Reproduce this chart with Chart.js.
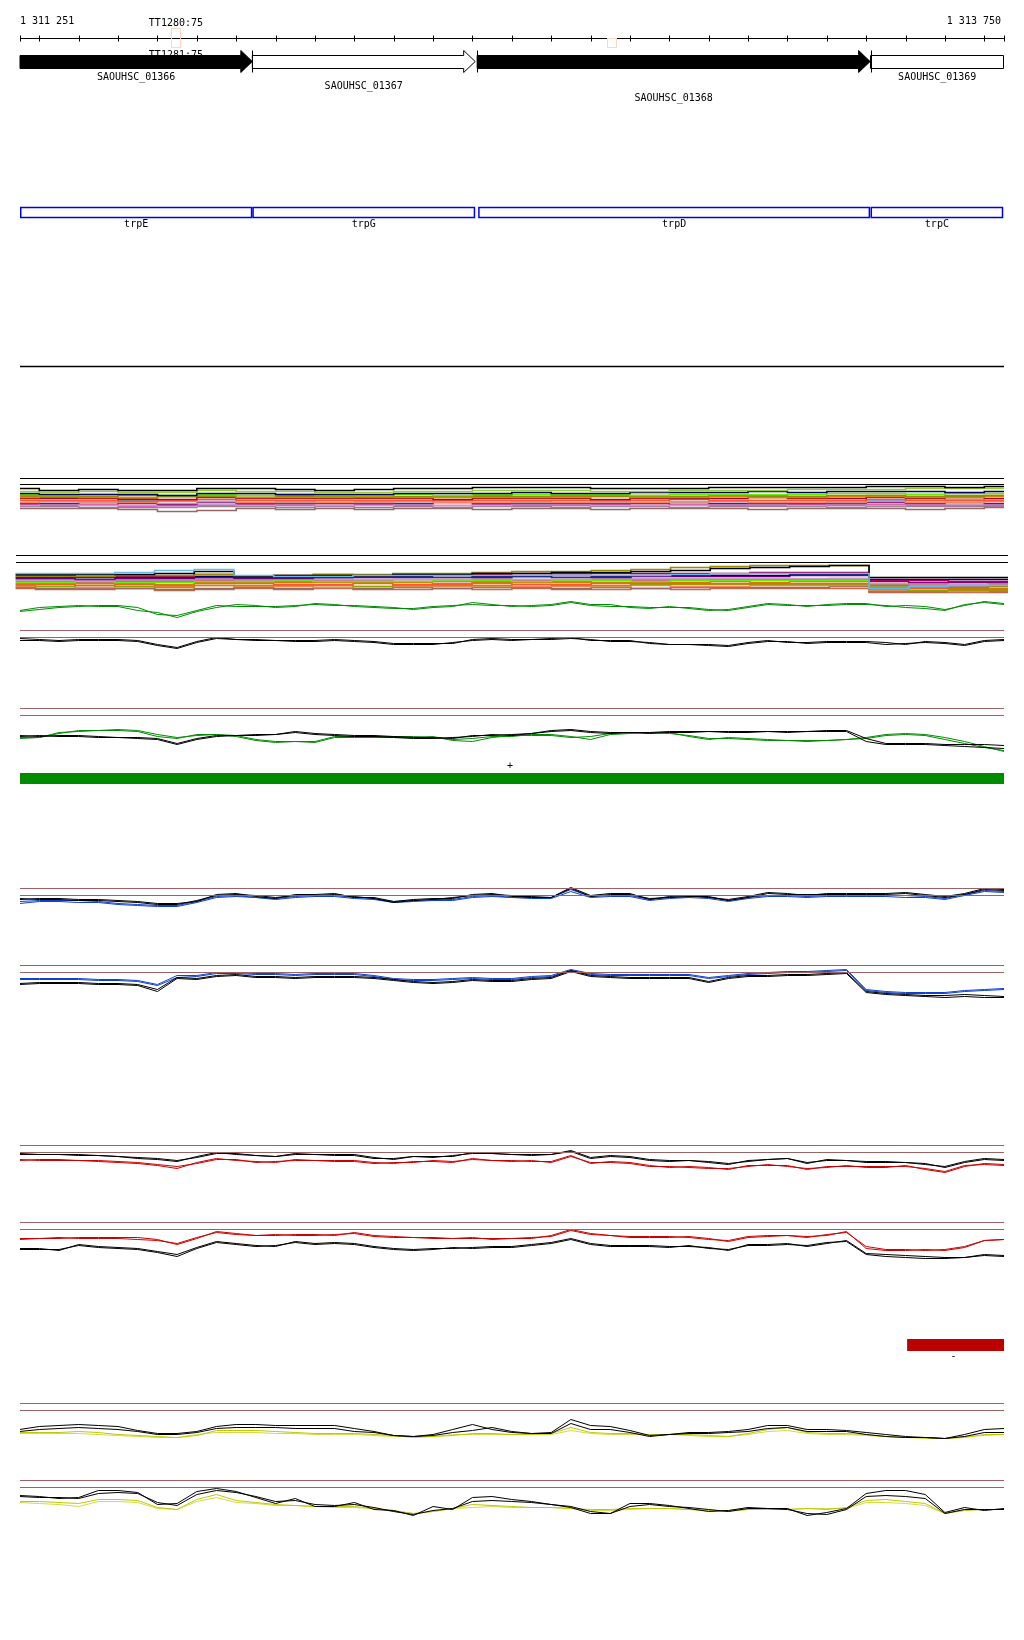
<!DOCTYPE html>
<html>
<head>
<meta charset="utf-8">
<script src="https://cdn.jsdelivr.net/npm/chart.js@4.4.1/dist/chart.umd.min.js"></script>
<style>
  html, body { margin: 0; padding: 0; background: #fff; }
  canvas { display: block; }
</style>
</head>
<body>
<canvas id="genomeChart" width="1024" height="1640"></canvas>
<script>
// view window (bp)
const viewStart = 1311251;
const viewEnd = 1313750;
const rulerLabels = ['1 311 251', '1 313 750'];
const rulerTicks = [1311251, 1311300, 1311400, 1311500, 1311600, 1311700, 1311800, 1311900,
  1312000, 1312100, 1312200, 1312300, 1312400, 1312500, 1312600, 1312700, 1312800, 1312900,
  1313000, 1313100, 1313200, 1313300, 1313400, 1313500, 1313600, 1313700, 1313750];

// genes
const geneNames = ['SAOUHSC_01366', 'SAOUHSC_01367', 'SAOUHSC_01368', 'SAOUHSC_01369'];
const geneStarts = [1311180, 1311841, 1312412, 1313411];
const geneEnds = [1311841, 1312407, 1313410, 1313900];
const geneFilled = [true, false, true, false];
const geneSymbols = ['trpE', 'trpG', 'trpD', 'trpC'];

// probes
const probeNames = ['TT1280:75', 'TT1281:75', ''];
const probePos = [1311647, 1311647, 1312754];

// transcribed segments
const segStrands = ['+', '-'];
const segStarts = [1311251, 1313504];
const segEnds = [1313750, 1313750];

// sample positions
const pos50 = [1311250, 1311300, 1311350, 1311400, 1311450, 1311500, 1311550, 1311600, 1311650, 1311700,
  1311750, 1311800, 1311850, 1311900, 1311950, 1312000, 1312050, 1312100, 1312150, 1312200,
  1312250, 1312300, 1312350, 1312400, 1312450, 1312500, 1312550, 1312600, 1312650, 1312700,
  1312750, 1312800, 1312850, 1312900, 1312950, 1313000, 1313050, 1313100, 1313150, 1313200,
  1313250, 1313300, 1313350, 1313400, 1313450, 1313500, 1313550, 1313600, 1313650, 1313700, 1313750];
const pos100 = [1311250, 1311350, 1311450, 1311550, 1311650, 1311750, 1311850, 1311950, 1312050, 1312150,
  1312250, 1312350, 1312450, 1312550, 1312650, 1312750, 1312850, 1312950, 1313050, 1313150,
  1313250, 1313350, 1313450, 1313550, 1313650, 1313750];

const refLevels = [0, -7];
const refLevelsA = [0, -6];

// track A: many conditions
const colorsA = ['#000000', '#99CC33', '#000066', '#66EE00', '#998800', '#DD8800', '#AA0033', '#FF5533',
  '#66BBEE', '#EE8866', '#880088', '#CC99CC', '#DD55AA', '#888888', '#996666', '#BB7711'];
const valuesA = [
  [-10,-12,-11,-12,-12,-10,-10,-11,-12,-11,-10,-10,-9,-9,-9,-10,-10,-10,-9,-9,-9,-9,-8,-8,-9,-8],
  [-13,-14,-13,-14,-14,-12,-13,-13,-14,-14,-13,-13,-12,-12,-12,-13,-13,-12,-12,-12,-11,-11,-11,-10,-10,-10],
  [-15,-16,-16,-16,-17,-15,-15,-16,-16,-16,-15,-15,-15,-14,-15,-15,-14,-14,-14,-13,-14,-13,-13,-13,-14,-13],
  [-16,-17,-16,-16,-17,-16,-17,-16,-17,-17,-16,-17,-16,-16,-16,-16,-17,-16,-16,-16,-16,-15,-15,-16,-15,-15],
  [-17,-18,-18,-17,-18,-18,-17,-18,-18,-19,-18,-18,-18,-18,-17,-18,-18,-18,-17,-18,-18,-17,-17,-18,-18,-17],
  [-19,-18,-19,-19,-18,-17,-19,-19,-19,-18,-19,-19,-19,-19,-19,-18,-19,-19,-18,-19,-19,-18,-18,-19,-19,-18],
  [-20,-20,-20,-21,-21,-19,-20,-20,-20,-20,-20,-21,-20,-20,-20,-21,-20,-20,-20,-19,-20,-20,-19,-20,-19,-20],
  [-22,-22,-22,-23,-22,-21,-22,-22,-22,-22,-22,-22,-22,-22,-22,-22,-22,-21,-22,-22,-22,-22,-21,-22,-22,-22],
  [-22,-23,-23,-22,-23,-23,-22,-23,-22,-23,-23,-22,-22,-23,-22,-23,-22,-23,-23,-22,-22,-23,-22,-22,-21,-22],
  [-24,-23,-24,-24,-25,-23,-24,-24,-24,-24,-23,-24,-24,-24,-24,-24,-24,-24,-23,-24,-24,-24,-23,-24,-24,-23],
  [-25,-25,-24,-25,-26,-24,-25,-25,-25,-25,-25,-24,-25,-25,-25,-25,-25,-24,-25,-25,-25,-25,-24,-25,-24,-25],
  [-27,-26,-27,-27,-28,-26,-27,-26,-27,-27,-26,-27,-27,-26,-26,-27,-27,-27,-26,-26,-27,-26,-27,-26,-26,-26],
  [-26,-27,-26,-28,-27,-27,-26,-27,-27,-26,-27,-27,-26,-27,-27,-26,-27,-26,-27,-27,-26,-27,-26,-27,-27,-27],
  [-28,-28,-29,-29,-29,-28,-28,-29,-28,-29,-28,-29,-28,-28,-29,-28,-28,-29,-28,-28,-28,-29,-28,-28,-28,-28],
  [-30,-30,-30,-31,-33,-32,-30,-31,-30,-31,-30,-30,-31,-30,-30,-31,-30,-30,-30,-31,-30,-30,-30,-31,-30,-29],
  [-18,-19,-19,-20,-18,-18,-19,-17,-18,-18,-19,-18,-17,-18,-18,-17,-17,-18,-18,-17,-18,-18,-17,-16,-17,-17]
];

// track B: many conditions
const colorsB = ['#66BBEE', '#000000', '#998800', '#AA0055', '#000066', '#880088', '#CC99CC', '#66EE00',
  '#DD7700', '#FF5533', '#88AA00', '#EE8866', '#996666', '#DD55AA', '#999999', '#CC6644'];
const valuesB = [
  [-18,-18,-18,-17,-15,-14,-20,-21,-21,-20,-20,-20,-20,-20,-20,-20,-20,-19,-18,-18,-18,-18,-33,-31,-30,-30],
  [-19,-19,-19,-19,-18,-16,-21,-20,-20,-20,-19,-19,-18,-18,-17,-17,-16,-15,-13,-12,-11,-10,-22,-22,-22,-22],
  [-21,-21,-21,-20,-20,-19,-21,-20,-19,-19,-18,-18,-17,-16,-16,-15,-14,-12,-11,-10,-10,-10,-30,-31,-32,-31],
  [-20,-20,-21,-21,-21,-19,-21,-20,-19,-20,-19,-19,-19,-18,-18,-18,-18,-18,-18,-17,-17,-17,-25,-25,-26,-26],
  [-22,-22,-22,-22,-22,-21,-22,-22,-22,-21,-21,-20,-21,-21,-20,-21,-20,-20,-20,-20,-19,-19,-24,-24,-24,-24],
  [-23,-23,-24,-23,-23,-22,-23,-23,-22,-22,-22,-22,-22,-21,-22,-22,-21,-21,-21,-21,-20,-20,-26,-27,-27,-27],
  [-25,-25,-25,-24,-24,-23,-24,-24,-24,-24,-24,-24,-23,-24,-24,-23,-23,-23,-23,-23,-23,-23,-28,-28,-29,-28],
  [-27,-27,-26,-27,-27,-26,-26,-25,-26,-26,-26,-25,-25,-26,-25,-25,-26,-25,-25,-25,-25,-25,-30,-30,-29,-30],
  [-28,-28,-28,-28,-29,-27,-27,-27,-27,-27,-27,-28,-27,-27,-27,-27,-27,-27,-26,-27,-26,-26,-32,-32,-33,-33],
  [-29,-29,-30,-29,-30,-28,-28,-29,-29,-28,-29,-29,-28,-29,-29,-28,-28,-28,-28,-28,-28,-28,-33,-33,-34,-34],
  [-30,-31,-30,-31,-32,-30,-30,-30,-30,-31,-30,-30,-30,-29,-30,-30,-29,-29,-29,-29,-29,-29,-34,-35,-35,-35],
  [-31,-31,-32,-31,-31,-30,-31,-31,-32,-31,-31,-31,-31,-31,-31,-31,-30,-31,-31,-30,-30,-30,-35,-35,-36,-35],
  [-32,-33,-33,-33,-34,-33,-32,-33,-32,-33,-32,-33,-32,-32,-33,-32,-33,-32,-32,-32,-32,-31,-36,-36,-36,-36],
  [-26,-26,-27,-26,-26,-25,-26,-26,-25,-26,-26,-26,-26,-25,-26,-25,-25,-25,-24,-24,-24,-24,-29,-29,-30,-29],
  [-24,-24,-24,-25,-25,-24,-25,-25,-24,-25,-24,-24,-24,-24,-24,-24,-24,-24,-24,-24,-24,-23,-31,-31,-31,-31],
  [-33,-34,-34,-33,-35,-34,-33,-34,-33,-34,-34,-33,-34,-33,-34,-34,-33,-34,-33,-33,-33,-33,-37,-37,-37,-37]
];
const bGreen1 = [-56,-54,-52,-51,-50,-50,-52,-59,-60,-55,-50,-51,-51,-51,-50,-49,-50,-50,-51,-52,-54,-52,-51,-47,-49,-51,-50,-49,-46,-49,-49,-52,-53,-51,-53,-55,-54,-51,-48,-49,-51,-49,-48,-48,-51,-50,-51,-54,-50,-46,-48];
const bGreen2 = [-55,-52,-51,-50,-51,-51,-55,-57,-62,-56,-52,-49,-50,-52,-51,-48,-49,-51,-52,-53,-53,-51,-50,-49,-50,-50,-51,-50,-47,-50,-51,-51,-52,-52,-52,-54,-55,-52,-49,-50,-50,-50,-49,-49,-50,-52,-53,-55,-49,-47,-49];

// track C
const cBlack1 = [-8,-9,-10,-9,-9,-9,-10,-14,-17,-11,-7,-9,-9,-10,-10,-10,-9,-10,-11,-13,-13,-13,-13,-9,-8,-9,-9,-8,-7,-10,-10,-10,-13,-14,-14,-14,-15,-12,-10,-12,-12,-11,-11,-11,-12,-14,-11,-12,-14,-10,-9];
const cBlack2 = [-10,-10,-11,-10,-10,-10,-11,-15,-18,-12,-8,-9,-10,-10,-11,-11,-10,-11,-12,-14,-14,-14,-12,-10,-9,-10,-9,-9,-8,-9,-11,-11,-12,-14,-14,-15,-16,-13,-11,-11,-13,-12,-12,-12,-14,-13,-12,-13,-15,-11,-10];

// track D
const dBlack1 = [-27,-28,-27,-27,-28,-29,-29,-30,-35,-30,-27,-27,-27,-26,-23,-25,-26,-27,-27,-28,-29,-29,-30,-27,-27,-26,-25,-22,-21,-23,-24,-24,-24,-23,-23,-23,-23,-23,-23,-23,-23,-22,-22,-30,-35,-35,-35,-36,-36,-36,-37];
const dBlack2 = [-28,-27,-28,-28,-29,-29,-30,-31,-36,-31,-28,-27,-26,-26,-24,-26,-27,-28,-28,-29,-30,-30,-29,-28,-26,-27,-25,-23,-22,-24,-25,-24,-25,-24,-24,-23,-24,-24,-23,-24,-23,-23,-23,-33,-36,-36,-36,-37,-38,-39,-40];
const dGreen1 = [-29,-29,-25,-22,-22,-22,-23,-28,-30,-26,-26,-27,-31,-33,-33,-33,-28,-28,-28,-28,-28,-29,-31,-30,-28,-28,-26,-26,-28,-31,-26,-25,-24,-24,-28,-31,-29,-30,-31,-32,-32,-32,-31,-29,-26,-25,-26,-29,-33,-38,-43];
const dGreen2 = [-30,-29,-24,-23,-22,-21,-22,-26,-29,-27,-26,-28,-32,-34,-33,-34,-29,-29,-29,-29,-29,-28,-32,-33,-29,-27,-27,-27,-29,-28,-25,-24,-24,-25,-27,-30,-30,-31,-32,-32,-33,-32,-31,-30,-27,-26,-27,-31,-35,-39,-42];

// track E
const eBlack1 = [-11,-10,-10,-11,-11,-12,-13,-15,-15,-13,-6,-5,-8,-10,-6,-6,-5,-9,-9,-13,-11,-10,-10,-6,-5,-8,-8,-9,1,-7,-5,-5,-11,-8,-7,-9,-11,-8,-4,-5,-7,-5,-5,-5,-5,-4,-6,-8,-5,0,-1];
const eBlack2 = [-10,-11,-11,-12,-12,-13,-14,-16,-16,-12,-7,-6,-7,-9,-7,-7,-6,-8,-10,-14,-12,-11,-9,-7,-6,-7,-9,-9,0,-8,-6,-6,-10,-9,-8,-8,-12,-9,-5,-6,-6,-6,-6,-6,-6,-5,-7,-9,-6,-1,-2];
const eBlue1 = [-13,-12,-12,-12,-13,-15,-16,-17,-17,-13,-8,-7,-9,-10,-8,-7,-7,-9,-10,-13,-12,-11,-11,-8,-7,-9,-9,-9,-1,-8,-7,-7,-11,-9,-8,-9,-12,-9,-7,-7,-8,-7,-7,-7,-7,-7,-8,-10,-6,-2,-3];
const eBlue2 = [-15,-13,-13,-14,-14,-16,-17,-18,-18,-14,-9,-8,-9,-11,-9,-8,-8,-10,-11,-14,-13,-12,-12,-9,-8,-9,-10,-10,-3,-9,-8,-8,-12,-10,-9,-10,-13,-10,-8,-8,-9,-8,-8,-8,-8,-9,-9,-11,-7,-3,-4];

// track F
const fBlack1 = [-18,-17,-17,-17,-18,-18,-19,-24,-12,-13,-10,-9,-11,-11,-12,-11,-11,-11,-12,-14,-16,-17,-16,-14,-15,-15,-13,-12,-5,-10,-11,-12,-12,-12,-12,-16,-12,-10,-10,-9,-9,-8,-7,-26,-28,-29,-30,-30,-29,-30,-31];
const fBlack2 = [-19,-18,-18,-18,-19,-19,-20,-26,-13,-14,-11,-10,-12,-12,-13,-12,-12,-12,-13,-15,-17,-18,-17,-15,-16,-16,-14,-13,-6,-11,-12,-13,-13,-13,-13,-17,-13,-11,-11,-10,-10,-9,-8,-27,-29,-30,-31,-32,-31,-32,-32];
const fBlue1 = [-13,-13,-13,-13,-14,-14,-15,-19,-10,-10,-7,-7,-8,-8,-9,-8,-8,-8,-10,-13,-14,-14,-13,-12,-13,-13,-11,-10,-4,-8,-9,-9,-9,-9,-9,-12,-10,-8,-7,-6,-6,-5,-4,-24,-26,-27,-27,-27,-25,-24,-23];
const fBlue2 = [-14,-14,-14,-14,-15,-15,-16,-20,-12,-11,-8,-8,-9,-9,-10,-9,-9,-9,-11,-14,-15,-15,-14,-13,-14,-14,-12,-11,-5,-9,-10,-10,-10,-10,-10,-13,-11,-9,-8,-7,-7,-6,-5,-25,-27,-28,-28,-28,-26,-25,-24];

// track G
const gBlack1 = [-9,-9,-9,-9,-10,-11,-12,-13,-15,-12,-8,-8,-10,-11,-8,-9,-9,-9,-12,-14,-11,-11,-11,-7,-8,-9,-9,-9,-5,-12,-10,-11,-14,-15,-15,-17,-19,-15,-14,-13,-18,-14,-15,-16,-16,-17,-19,-21,-16,-13,-14];
const gBlack2 = [-8,-9,-9,-10,-10,-11,-13,-14,-16,-11,-7,-9,-10,-11,-9,-9,-10,-10,-13,-13,-11,-12,-10,-8,-8,-9,-10,-9,-6,-13,-11,-12,-15,-16,-15,-16,-18,-16,-14,-13,-17,-15,-15,-17,-17,-17,-18,-22,-17,-14,-15];
const gRed1 = [-15,-14,-14,-15,-15,-16,-17,-19,-21,-18,-14,-14,-17,-16,-15,-15,-15,-15,-17,-18,-16,-16,-17,-13,-15,-15,-16,-16,-10,-18,-16,-17,-20,-22,-21,-22,-24,-20,-20,-20,-24,-21,-21,-21,-21,-21,-23,-26,-20,-19,-20];
const gRed2 = [-14,-15,-15,-15,-16,-17,-18,-20,-23,-17,-13,-15,-16,-17,-14,-15,-16,-16,-18,-17,-17,-15,-16,-14,-15,-16,-15,-17,-11,-17,-17,-18,-21,-21,-22,-23,-23,-21,-19,-21,-23,-22,-20,-22,-22,-20,-24,-27,-21,-18,-19];

// track H
const hRed1 = [-16,-16,-16,-15,-15,-15,-15,-17,-22,-16,-9,-11,-13,-13,-12,-12,-13,-10,-13,-14,-15,-15,-16,-16,-16,-16,-16,-13,-7,-11,-13,-14,-14,-14,-15,-17,-18,-14,-13,-13,-15,-12,-10,-24,-27,-27,-28,-27,-24,-18,-17];
const hRed2 = [-17,-16,-15,-16,-16,-16,-17,-18,-21,-15,-10,-12,-13,-12,-13,-13,-12,-11,-14,-15,-15,-16,-16,-15,-17,-16,-15,-14,-8,-12,-13,-15,-15,-15,-14,-16,-19,-15,-14,-13,-14,-13,-9,-26,-28,-28,-27,-28,-25,-18,-17];
const hBlack1 = [-26,-26,-28,-22,-24,-25,-26,-29,-32,-25,-19,-21,-23,-24,-19,-21,-20,-21,-24,-26,-27,-26,-26,-25,-24,-24,-22,-20,-16,-21,-23,-23,-23,-24,-24,-25,-28,-22,-22,-21,-24,-21,-18,-31,-32,-33,-34,-35,-35,-32,-33];
const hBlack2 = [-27,-27,-27,-23,-25,-26,-27,-30,-34,-26,-20,-22,-24,-23,-20,-22,-21,-22,-25,-27,-28,-27,-25,-26,-25,-25,-23,-21,-17,-22,-24,-24,-24,-25,-23,-26,-27,-23,-23,-22,-23,-20,-19,-32,-34,-35,-36,-36,-35,-33,-34];

// track I
const iBlack1 = [-26,-23,-22,-21,-22,-23,-27,-30,-30,-28,-23,-21,-21,-22,-22,-22,-22,-25,-28,-32,-33,-31,-26,-21,-26,-29,-30,-29,-16,-22,-23,-27,-32,-31,-29,-29,-28,-26,-22,-22,-26,-26,-27,-29,-31,-33,-34,-35,-31,-26,-25];
const iBlack2 = [-28,-26,-25,-24,-25,-26,-28,-31,-31,-29,-25,-24,-24,-24,-25,-25,-25,-28,-29,-32,-33,-32,-29,-27,-24,-28,-30,-30,-20,-26,-26,-29,-33,-31,-30,-30,-29,-28,-25,-24,-28,-28,-28,-31,-33,-34,-34,-35,-33,-29,-29];
const iYellow1 = [-29,-29,-29,-28,-29,-31,-32,-33,-34,-32,-27,-27,-27,-28,-29,-30,-30,-30,-31,-32,-34,-33,-32,-30,-30,-31,-31,-30,-24,-29,-30,-30,-31,-31,-31,-32,-33,-30,-26,-24,-29,-30,-30,-31,-33,-34,-34,-35,-34,-31,-31];
const iYellow2 = [-30,-30,-30,-30,-31,-32,-33,-34,-34,-31,-29,-29,-29,-30,-30,-31,-31,-31,-32,-33,-33,-33,-31,-31,-31,-31,-31,-31,-27,-30,-31,-31,-31,-31,-32,-33,-33,-31,-28,-27,-30,-31,-31,-32,-33,-34,-35,-35,-33,-32,-31];

// track J
const jBlack1 = [-15,-16,-18,-17,-10,-10,-12,-24,-23,-11,-8,-11,-17,-23,-18,-26,-26,-22,-29,-30,-35,-26,-29,-17,-16,-19,-21,-24,-27,-33,-33,-23,-23,-25,-28,-31,-30,-27,-28,-28,-35,-32,-28,-13,-10,-10,-14,-32,-27,-30,-28];
const jBlack2 = [-16,-17,-17,-18,-13,-12,-13,-22,-25,-14,-10,-12,-16,-21,-20,-24,-25,-24,-27,-31,-34,-30,-28,-21,-20,-21,-22,-24,-26,-31,-33,-26,-24,-26,-27,-29,-31,-28,-28,-29,-33,-34,-29,-16,-15,-16,-18,-33,-29,-29,-29];
const jYellow1 = [-21,-21,-22,-23,-19,-19,-20,-27,-29,-19,-14,-20,-22,-24,-25,-26,-26,-26,-28,-30,-33,-31,-28,-24,-25,-26,-27,-27,-28,-29,-29,-28,-28,-28,-29,-30,-30,-29,-29,-29,-28,-29,-27,-20,-19,-21,-23,-33,-30,-29,-29];
const jYellow2 = [-22,-23,-24,-26,-21,-21,-22,-28,-29,-21,-17,-22,-23,-25,-25,-26,-27,-27,-28,-31,-33,-31,-28,-27,-26,-27,-27,-27,-28,-30,-30,-29,-28,-28,-29,-30,-31,-29,-29,-29,-28,-28,-28,-22,-22,-23,-25,-33,-29,-29,-29];

// ---- layout: stacked vertical panels (px) ----
const panels = [
  { id: 'yHead', top: 0, bottom: 440 },
  { id: 'yA', top: 440, bottom: 530, ref: 478.5 },
  { id: 'yB', top: 530, bottom: 622, ref: 555.5 },
  { id: 'yC', top: 622, bottom: 700, ref: 630.5 },
  { id: 'yD', top: 700, bottom: 800, ref: 708.5 },
  { id: 'yE', top: 800, bottom: 920, ref: 888.5 },
  { id: 'yF', top: 920, bottom: 1100, ref: 965.5 },
  { id: 'yG', top: 1100, bottom: 1180, ref: 1145.5 },
  { id: 'yH', top: 1180, bottom: 1370, ref: 1222.5 },
  { id: 'yI', top: 1370, bottom: 1450, ref: 1403.5 },
  { id: 'yJ', top: 1450, bottom: 1640, ref: 1480.5 }
];

const scales = {
  x: { type: 'linear', min: viewStart, max: viewEnd, display: false },
  // track B is drawn 4px wider on both sides
  xb: { type: 'linear', min: viewStart + 10, max: viewEnd - 10, display: false }
};
panels.forEach(p => {
  const s = { type: 'linear', position: 'right', stack: 'tracks', stackWeight: p.bottom - p.top, display: false };
  if (p.ref === undefined) {
    s.min = 0; s.max = p.bottom - p.top; s.reverse = true;
  } else {
    s.min = p.ref - p.bottom; s.max = p.ref - p.top;
  }
  scales[p.id] = s;
});

const datasets = [];
function addLine(values, xs, color, yAxisID, extra) {
  datasets.push(Object.assign({
    data: values.map((v, i) => ({ x: xs[i], y: v })),
    borderColor: color,
    borderWidth: 1,
    pointRadius: 0,
    fill: false,
    tension: 0,
    xAxisID: 'x',
    yAxisID
  }, extra || {}));
}
function addRefs(levels, color, yAxisID, extra) {
  levels.forEach(l => addLine([l, l], [viewStart, viewEnd], color, yAxisID, extra));
}

const brown = '#9A6464';
const green = '#008C00';
const blue = '#1040D0';
const red = '#CC0000';

// A
addRefs(refLevelsA, '#000', 'yA');
valuesA.forEach((v, i) => addLine(v, pos100, colorsA[i], 'yA', { stepped: 'middle', borderWidth: 1.6 }));
// B
addRefs(refLevels, '#000', 'yB', { xAxisID: 'xb', clip: false });
valuesB.forEach((v, i) => addLine(v, pos100, colorsB[i], 'yB', { stepped: 'middle', borderWidth: 1.6, xAxisID: 'xb', clip: false }));
addLine(bGreen1, pos50, green, 'yB');
addLine(bGreen2, pos50, green, 'yB');
// C
addRefs(refLevels, brown, 'yC');
addLine(cBlack1, pos50, '#000', 'yC');
addLine(cBlack2, pos50, '#000', 'yC');
// D
addRefs(refLevels, brown, 'yD');
addLine(dBlack1, pos50, '#000', 'yD');
addLine(dBlack2, pos50, '#000', 'yD');
addLine(dGreen1, pos50, green, 'yD');
addLine(dGreen2, pos50, green, 'yD');
// E
addRefs(refLevels, brown, 'yE');
addLine(eBlack1, pos50, '#000', 'yE');
addLine(eBlack2, pos50, '#000', 'yE');
addLine(eBlue1, pos50, blue, 'yE');
addLine(eBlue2, pos50, blue, 'yE');
// F
addRefs(refLevels, brown, 'yF');
addLine(fBlack1, pos50, '#000', 'yF');
addLine(fBlack2, pos50, '#000', 'yF');
addLine(fBlue1, pos50, blue, 'yF');
addLine(fBlue2, pos50, blue, 'yF');
// G
addRefs(refLevels, brown, 'yG');
addLine(gBlack1, pos50, '#000', 'yG');
addLine(gBlack2, pos50, '#000', 'yG');
addLine(gRed1, pos50, red, 'yG');
addLine(gRed2, pos50, red, 'yG');
// H
addRefs(refLevels, brown, 'yH');
addLine(hBlack1, pos50, '#000', 'yH');
addLine(hBlack2, pos50, '#000', 'yH');
addLine(hRed1, pos50, red, 'yH');
addLine(hRed2, pos50, red, 'yH');
// I
addRefs(refLevels, brown, 'yI');
addLine(iBlack1, pos50, '#000', 'yI');
addLine(iBlack2, pos50, '#000', 'yI');
addLine(iYellow1, pos50, '#C0C800', 'yI');
addLine(iYellow2, pos50, '#D2DC40', 'yI');
// J
addRefs(refLevels, brown, 'yJ');
addLine(jBlack1, pos50, '#000', 'yJ');
addLine(jBlack2, pos50, '#000', 'yJ');
addLine(jYellow1, pos50, '#C0C800', 'yJ');
addLine(jYellow2, pos50, '#D2DC40', 'yJ');

// header, gene models and segment bars
const genomePlugin = {
  id: 'genomeFeatures',
  afterDatasetsDraw(chart) {
    const ctx = chart.ctx;
    const sx = chart.scales.x;
    const hy = chart.scales.yHead;
    const X = v => sx.getPixelForValue(Math.min(Math.max(v, viewStart), viewEnd));
    const Y = v => hy.getPixelForValue(v);
    const mono = '10px "DejaVu Sans Mono", "Liberation Mono", monospace';

    ctx.save();
    ctx.font = mono;
    ctx.lineWidth = 1;
    ctx.fillStyle = '#000';
    ctx.strokeStyle = '#000';
    ctx.textBaseline = 'alphabetic';

    // ruler
    const ry = Y(38.5);
    ctx.beginPath();
    ctx.moveTo(X(viewStart), ry);
    ctx.lineTo(X(viewEnd), ry);
    rulerTicks.forEach(t => {
      const tx = Math.round(X(t)) + 0.5;
      ctx.moveTo(tx, ry - 3);
      ctx.lineTo(tx, ry + 3);
    });
    ctx.stroke();
    ctx.textAlign = 'left';
    ctx.fillText(rulerLabels[0], X(viewStart), Y(24));
    ctx.textAlign = 'right';
    ctx.fillText(rulerLabels[1], X(viewEnd) - 3, Y(24));

    // probes
    const probeLabelY = [26, 58, null];
    const probeBoxTop = [28.5, null, 38.5];
    ctx.strokeStyle = '#FFD6C4';
    probePos.forEach((p, i) => {
      if (probeBoxTop[i] === null) return;
      const px = Math.round(X(p));
      ctx.strokeRect(px - 4.5, Y(probeBoxTop[i]), 9, Y(47.5) - Y(probeBoxTop[i]));
    });
    ctx.textAlign = 'center';
    probeNames.forEach((n, i) => {
      if (!n) return;
      ctx.fillText(n, X(probePos[i]), Y(probeLabelY[i]));
    });

    // gene arrows
    const bt = Y(55.5), bb = Y(68.5), ht = Y(50.5), hb = Y(72.5), mid = Y(61.5);
    const headLen = 11.5;
    const labelY = [80, 89, 101, 80];
    geneStarts.forEach((s, i) => {
      const x0 = X(s);
      const x1 = X(geneEnds[i]);
      const hasHead = geneEnds[i] <= viewEnd;
      ctx.beginPath();
      ctx.moveTo(x0, bt);
      if (hasHead) {
        ctx.lineTo(x1 - headLen, bt);
        ctx.lineTo(x1 - headLen, ht);
        ctx.lineTo(x1, mid);
        ctx.lineTo(x1 - headLen, hb);
        ctx.lineTo(x1 - headLen, bb);
      } else {
        ctx.lineTo(x1 - 0.5, bt);
        ctx.lineTo(x1 - 0.5, bb);
      }
      ctx.lineTo(x0, bb);
      ctx.closePath();
      ctx.fillStyle = geneFilled[i] ? '#000' : '#fff';
      ctx.fill();
      ctx.strokeStyle = '#000';
      ctx.stroke();
      if (s >= viewStart) {
        const lx = Math.round(x0) + 0.5;
        ctx.beginPath();
        ctx.moveTo(lx, ht);
        ctx.lineTo(lx, hb);
        ctx.stroke();
      }
      ctx.fillStyle = '#000';
      ctx.textAlign = 'center';
      ctx.fillText(geneNames[i], (x0 + x1) / 2, Y(labelY[i]));
    });

    // gene symbol boxes
    ctx.strokeStyle = '#0000EE';
    ctx.lineWidth = 1.5;
    geneStarts.forEach((s, i) => {
      const x0 = X(s) + (i === 2 ? 1 : 0);
      const x1 = X(geneEnds[i]) - (i === 3 ? 0.75 : 0);
      ctx.strokeRect(x0 + 0.75, Y(207.5), x1 - x0 - 1.5, Y(217.5) - Y(207.5));
      ctx.fillStyle = '#000';
      ctx.fillText(geneSymbols[i], (x0 + x1) / 2, Y(227));
    });

    // separator line
    ctx.strokeStyle = '#000';
    ctx.lineWidth = 1.5;
    ctx.beginPath();
    ctx.moveTo(X(viewStart), Y(366.5));
    ctx.lineTo(X(viewEnd), Y(366.5));
    ctx.stroke();

    // transcribed segments
    const segAxis = ['yD', 'yH'];
    const segBand = [[-64.5, -75.5], [-116.5, -128.5]];
    const segColor = [green, '#BB0000'];
    segStarts.forEach((s, i) => {
      const ys = chart.scales[segAxis[i]];
      const x0 = X(s), x1 = X(segEnds[i]);
      const top = ys.getPixelForValue(segBand[i][0]);
      const bot = ys.getPixelForValue(segBand[i][1]);
      ctx.fillStyle = segColor[i];
      ctx.fillRect(x0, top, x1 - x0, bot - top);
      ctx.fillStyle = '#000';
      ctx.textAlign = 'center';
      ctx.textBaseline = 'middle';
      ctx.fillText(segStrands[i], (x0 + x1) / 2 - 2, segStrands[i] === '+' ? top - 7 : bot + 5);
      ctx.textBaseline = 'alphabetic';
    });

    ctx.restore();
  }
};

new Chart(document.getElementById('genomeChart').getContext('2d'), {
  type: 'line',
  data: { datasets },
  options: {
    responsive: false,
    animation: false,
    devicePixelRatio: 1,
    events: [],
    layout: { padding: { left: 20, right: 20, top: 0, bottom: 0 } },
    plugins: { legend: { display: false }, tooltip: { enabled: false } },
    scales
  },
  plugins: [genomePlugin]
});
</script>
</body>
</html>
